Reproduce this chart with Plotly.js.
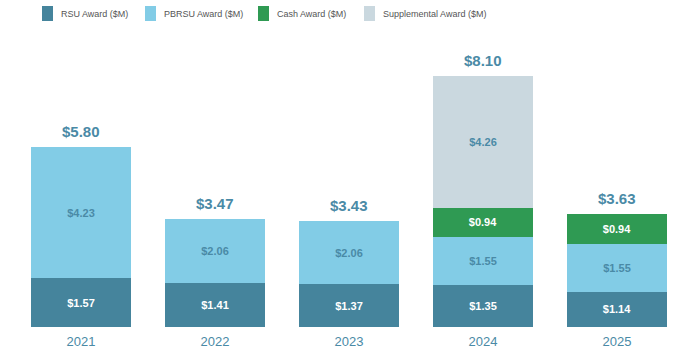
<!DOCTYPE html>
<html>
<head>
<meta charset="utf-8">
<script src="https://cdn.plot.ly/plotly-3.0.1.min.js"></script>
<style>
  html, body { margin: 0; padding: 0; background: #ffffff; }
  #chart { width: 700px; height: 359px; }
</style>
</head>
<body>
<div id="chart"></div>
<script>
const years = ["2021", "2022", "2023", "2024", "2025"];
const rsu = [1.57, 1.41, 1.37, 1.35, 1.14];
const pbrsu = [4.23, 2.06, 2.06, 1.55, 1.55];
const cash = [null, null, null, 0.94, 0.94];
const supplemental = [null, null, null, 4.26, null];
const seriesNames = ["RSU Award ($M)", "PBRSU Award ($M)", "Cash Award ($M)", "Supplemental Award ($M)"];

const totals = years.map((_, i) =>
  [rsu[i], pbrsu[i], cash[i], supplemental[i]].reduce((s, v) => s + (v || 0), 0));

const FONT = "Liberation Sans, Arial, Helvetica, sans-serif";
const TEAL_TEXT = "#4A8AA6";
const COLORS = ["#45849C", "#82CCE6", "#2F9A53", "#CAD8DF"];
const TEXT_COLORS = ["#ffffff", TEAL_TEXT, "#ffffff", TEAL_TEXT];

// plot area geometry (pixels)
const W = 700, H = 359;
const M = { l: 14, r: 16, t: 40, b: 32 };
const PW = W - M.l - M.r, PH = H - M.t - M.b;
const px2x = px => (px - M.l) / PW;
const py2y = py => (H - M.b - py) / PH;

function barTrace(name, values, i) {
  return {
    type: "bar",
    name: name,
    x: years,
    y: values,
    marker: { color: COLORS[i], line: { width: 0 } },
    texttemplate: "<b>$%{y:.2f}</b>",
    textposition: "inside",
    insidetextanchor: "middle",
    textangle: 0,
    constraintext: "none",
    textfont: { family: FONT, size: 11, color: TEXT_COLORS[i] },
    hoverinfo: "skip",
    showlegend: false
  };
}

const data = [
  barTrace(seriesNames[0], rsu, 0),
  barTrace(seriesNames[1], pbrsu, 1),
  barTrace(seriesNames[2], cash, 2),
  barTrace(seriesNames[3], supplemental, 3)
];

const annotations = years.map((yr, i) => ({
  x: i,
  y: totals[i],
  xref: "x",
  yref: "y",
  text: "<b>$" + totals[i].toFixed(2) + "</b>",
  showarrow: false,
  yanchor: "bottom",
  yshift: 5,
  font: { family: FONT, size: 15, color: TEAL_TEXT }
}));

// legend (top row): swatch + label per series
const legendLeft = [42, 145, 258, 364];
const shapes = [];
seriesNames.forEach((name, i) => {
  shapes.push({
    type: "rect",
    xref: "paper", yref: "paper",
    x0: px2x(legendLeft[i]), x1: px2x(legendLeft[i] + 11),
    y0: py2y(21), y1: py2y(6),
    fillcolor: COLORS[i],
    line: { width: 0 }
  });
  annotations.push({
    xref: "paper", yref: "paper",
    x: px2x(legendLeft[i] + 17), y: py2y(14),
    xanchor: "left", yanchor: "middle",
    text: name,
    showarrow: false,
    font: { family: FONT, size: 9, color: "#555555" }
  });
});

const layout = {
  width: W,
  height: H,
  margin: M,
  paper_bgcolor: "#ffffff",
  plot_bgcolor: "#ffffff",
  barmode: "stack",
  bargap: 0.254,
  showlegend: false,
  xaxis: {
    type: "category",
    range: [-0.5, years.length - 0.5],
    showgrid: false,
    zeroline: false,
    showline: false,
    ticks: "",
    ticklabelstandoff: 5,
    tickfont: { family: FONT, size: 13, color: TEAL_TEXT }
  },
  yaxis: {
    range: [0, 9.25],
    visible: false,
    showgrid: false,
    zeroline: false,
    fixedrange: true
  },
  shapes: shapes,
  annotations: annotations,
  font: { family: FONT }
};

Plotly.newPlot("chart", data, layout, { displayModeBar: false, staticPlot: true });
</script>
</body>
</html>
